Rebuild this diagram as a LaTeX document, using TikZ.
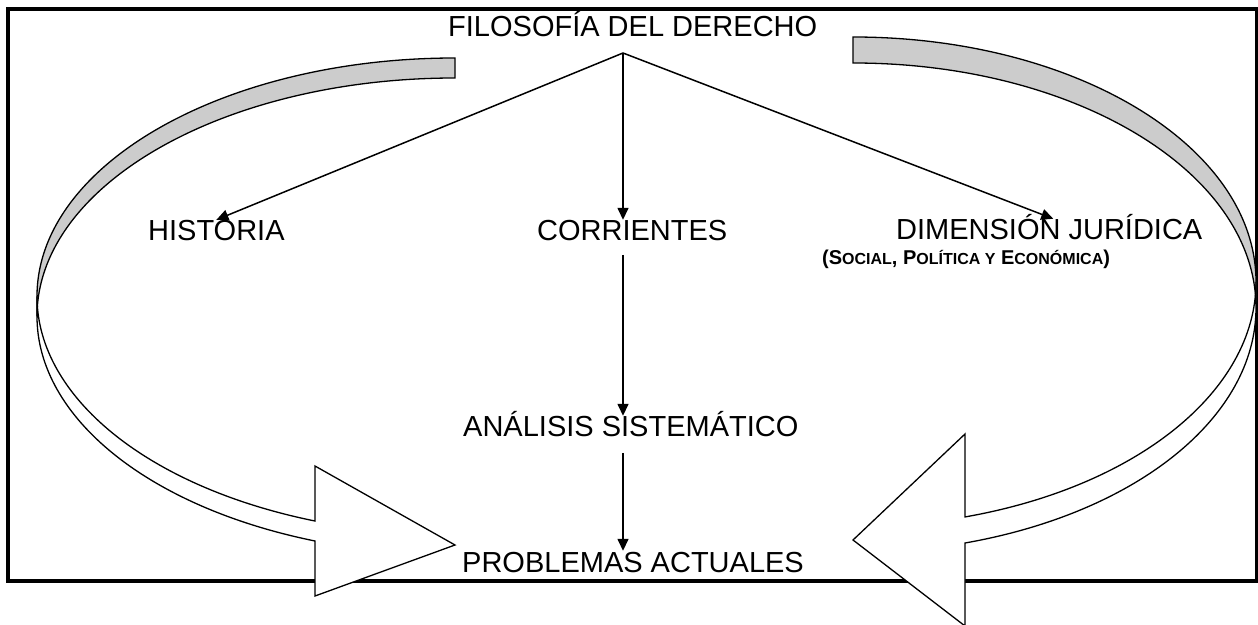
\documentclass[tikz,border=0pt]{standalone}
\usepackage{fontspec}
\setmainfont{Liberation Sans}
\usetikzlibrary{arrows.meta,calc}
\newcommand\mysmall[1]{{\fontsize{16}{16}\selectfont #1}}
\begin{document}
\begin{tikzpicture}[x=1pt,y=1pt,
  lbl/.style={inner sep=0pt, anchor=base west, font=\fontsize{29}{34}\selectfont, text height=21pt, text depth=0pt},
  sublbl/.style={inner sep=0pt, anchor=base west, font=\bfseries\fontsize{20}{24}\selectfont},
  conn/.style={line width=1.5pt, -{Triangle[length=12pt,width=11pt]}},
  band/.style={line width=1.3pt, line join=miter},
  back/.style={band, fill=black!20},
  front/.style={band, fill=white},
  frame/.style={line width=3.5pt}]
\useasboundingbox (0,0) rectangle (1258,624);
\clip (0,0) rectangle (1258,624);
% frame
\draw[frame] (8,43) rectangle (1256.5,615);
% left curved arrow
\filldraw[back] (455,566) arc[start angle=90,end angle=180,x radius=418,y radius=238.4]
  -- (37,307.6) arc[start angle=180,end angle=90,x radius=418,y radius=238.4] -- cycle;
\filldraw[front] (37,327.6) arc[start angle=180,end angle=250.43,x radius=418,y radius=238.4]
  -- (315,158) -- (455,79) -- (315,28) -- (315,83)
  arc[start angle=250.43,end angle=180,x radius=418,y radius=238.4] -- cycle;
% right curved arrow
\filldraw[back] (853,587) arc[start angle=90,end angle=0,x radius=403,y radius=244.8]
  -- (1256,316.2) arc[start angle=0,end angle=90,x radius=403,y radius=244.8] -- cycle;
\filldraw[front] (1256,342.2) arc[start angle=0,end angle=-73.86,x radius=403,y radius=244.8]
  -- (965,190) -- (853,84) -- (965,-2) -- (965,81)
  arc[start angle=-73.86,end angle=0,x radius=403,y radius=244.8] -- cycle;
% labels
\node[lbl] (fil) at (448,587) {FILOSOFÍA DEL DERECHO};
\node[lbl] (hist) at (148,383) {HISTORIA};
\node[lbl] (corr) at (537,383) {CORRIENTES};
\node[lbl] (dim) at (896,384) {DIMENSIÓN JURÍDICA};
\node[sublbl] (sub) at (822,359) {(S\mysmall{OCIAL}, P\mysmall{OLÍTICA Y} E\mysmall{CONÓMICA})};
\node[lbl] (anal) at (463,187) {ANÁLISIS SISTEMÁTICO};
\node[lbl] (prob) at (462,52) {PROBLEMAS ACTUALES};
% connectors
\coordinate (apex) at (623,571);
\coordinate (s2) at ([yshift=-14pt]corr.base);
\coordinate (s3) at ([yshift=-16pt]anal.base);
\draw[conn] (apex) -- (hist.north);
\draw[conn] (apex) -- (apex |- corr.north);
\draw[conn] (apex) -- ([xshift=4pt]dim.north);
\draw[conn] (s2 -| apex) -- (apex |- anal.north);
\draw[conn] (s3 -| apex) -- (apex |- prob.north);
\end{tikzpicture}
\end{document}
